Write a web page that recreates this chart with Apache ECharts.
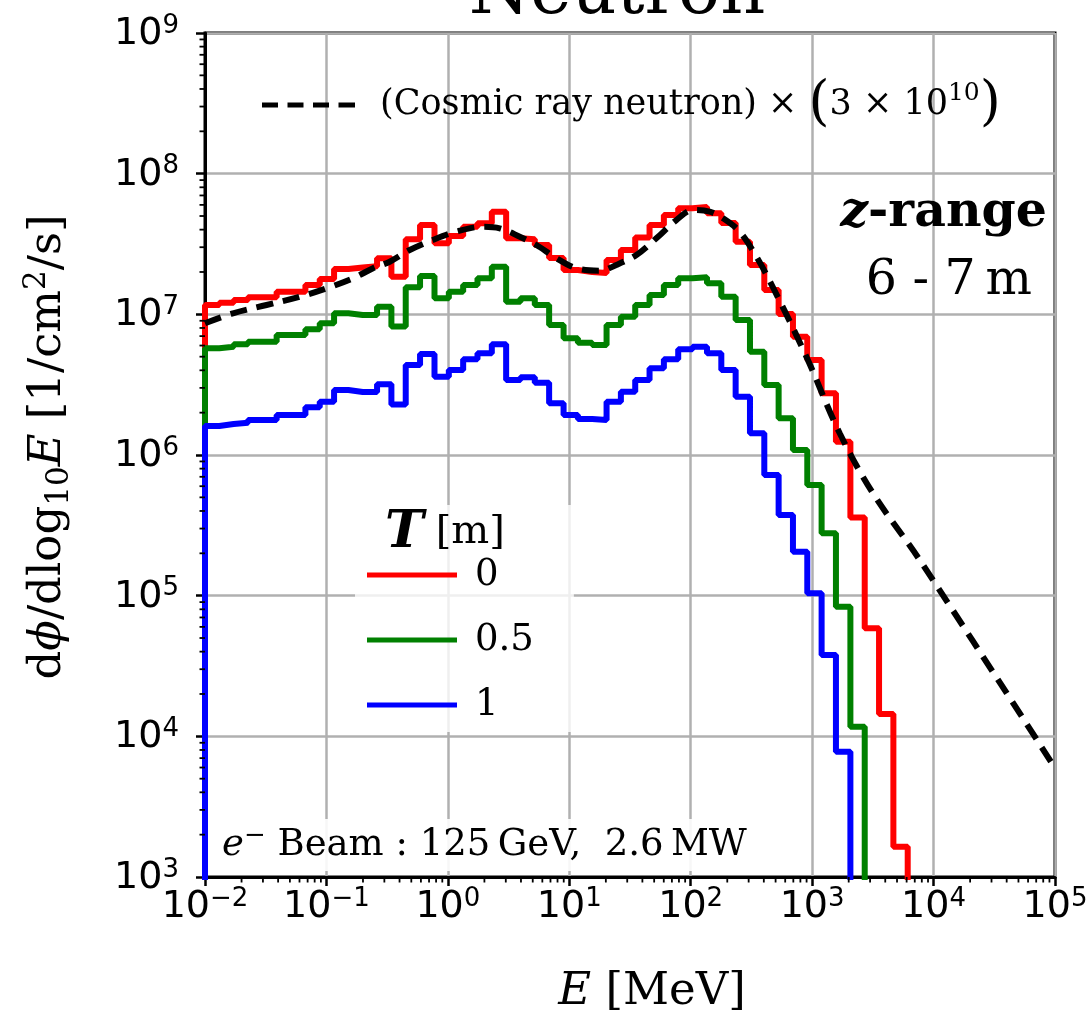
<!DOCTYPE html>
<html><head><meta charset="utf-8">
<script src="https://cdn.jsdelivr.net/npm/echarts@6/dist/echarts.min.js"></script>
<style>html,body{margin:0;padding:0;background:#fff}#c{width:1091px;height:1017px}</style>
</head><body><div id="c"></div>
<script>
// ---------- data ----------
// histogram bin edges, energy in MeV (log-spaced)
const binEdgesMeV = [0.01, 0.01312, 0.01722, 0.02259, 0.02965, 0.03890, 0.05117, 0.06714, 0.08810, 0.1156,
  0.1517, 0.1991, 0.2612, 0.3428, 0.4498, 0.5902, 0.7762, 1.0186, 1.3366, 1.7539,
  2.3014, 3.0200, 3.9628, 5.2000, 6.8234, 8.9743, 11.776, 15.453, 20.277, 26.607,
  34.914, 45.814, 60.117, 78.886, 103.51, 136.14, 178.65, 234.42, 307.61, 403.65,
  529.66, 695.02, 912.01, 1196.7, 1570.4, 2065.4, 2710.2, 3556.3, 4666.6, 6123.5, 8035.3];
// flux per bin, T = 0 m
const fluxT0 = [1.165e7, 1.21e7, 1.265e7, 1.32e7, 1.32e7, 1.45e7, 1.45e7, 1.617e7, 1.783e7, 2.1e7,
  2.15e7, 2.2e7, 2.503e7, 1.852e7, 3.415e7, 4.317e7, 3.2e7, 3.6e7, 4.2e7, 4.44e7,
  5.365e7, 3.47e7, 3.42e7, 3.11e7, 2.515e7, 2.066e7, 2.0e7, 1.967e7, 2.434e7, 2.867e7,
  3.518e7, 4.317e7, 5.08e7, 5.67e7, 5.8e7, 5.23e7, 4.46e7, 3.284e7, 2.243e7, 1.489e7,
  1.006e7, 6.93e6, 4.735e6, 2.746e6, 1.243e6, 3.596e5, 5.865e4, 1.442e4, 1.643e3];
// flux per bin, T = 0.5 m
const fluxT05 = [5.735e6, 5.89e6, 6.12e6, 6.39e6, 6.39e6, 7.13e6, 7.13e6, 7.83e6, 8.64e6, 1.017e7,
  9.89e6, 9.89e6, 1.133e7, 8.2e6, 1.556e7, 1.873e7, 1.3e7, 1.449e7, 1.617e7, 1.804e7,
  2.182e7, 1.23e7, 1.3e7, 1.165e7, 8.4e6, 6.755e6, 6.29e6, 6.05e6, 8.4e6, 9.62e6,
  1.165e7, 1.373e7, 1.617e7, 1.804e7, 1.834e7, 1.662e7, 1.335e7, 9.11e6, 5.425e6, 3.146e6,
  1.823e6, 1.085e6, 6.12e5, 2.776e5, 8.35e4, 1.171e4];
// flux per bin, T = 1 m
const fluxT1 = [1.608e6, 1.661e6, 1.697e6, 1.774e6, 1.774e6, 1.925e6, 1.925e6, 2.184e6, 2.393e6, 2.898e6,
  2.805e6, 2.8e6, 3.182e6, 2.286e6, 4.363e6, 5.224e6, 3.603e6, 4.02e6, 4.79e6, 5.284e6,
  6.12e6, 3.414e6, 3.568e6, 3.266e6, 2.331e6, 1.925e6, 1.803e6, 1.774e6, 2.393e6, 2.818e6,
  3.414e6, 4.134e6, 4.79e6, 5.64e6, 5.89e6, 5.284e6, 4.02e6, 2.597e6, 1.427e6, 7.21e5,
  3.746e5, 2.054e5, 1.04e5, 3.787e4, 7.78e3];
// cosmic ray neutron spectrum x 3e10 (dashed curve)
const cosmicE = [0.01, 0.017, 0.0321, 0.0603, 0.1, 0.1656, 0.242, 0.332, 0.485, 0.75,
  1.175, 1.945, 2.673, 3.91, 5.36, 7.83, 11.46, 17.78, 24.4, 35.7,
  52.1, 76.2, 104.5, 143.2, 184.5, 253, 347.5, 476.4, 897, 1687,
  3170, 7690, 1e5];
const cosmicFlux = [8.64e6, 1.017e7, 1.165e7, 1.335e7, 1.531e7, 1.804e7, 2.125e7, 2.367e7, 2.867e7, 3.377e7,
  3.87e7, 4.2e7, 4.09e7, 3.562e7, 3.11e7, 2.503e7, 2.125e7, 2.042e7, 2.243e7, 2.641e7,
  3.47e7, 4.68e7, 5.517e7, 5.365e7, 4.816e7, 3.87e7, 2.569e7, 1.551e7, 5.0e6, 1.427e6,
  5.342e5, 1.793e5, 5.96e3];
const seriesNames = ['0', '0.5', '1'];
const cosmicName = 'Cosmic ray neutron x 3e10';
const xTickExponents = [-2, -1, 0, 1, 2, 3, 4, 5];
const yTickExponents = [3, 4, 5, 6, 7, 8, 9];
const ZERO_FLUX = 100; // empty bins fall below the visible y-range

// ---------- build ----------
const X_MIN = 1e-2, X_MAX = 1e5, Y_MIN = 1e3, Y_MAX = 1e9;
function histData(vals) {
  const d = [[binEdgesMeV[0], ZERO_FLUX]];
  vals.forEach((v, i) => d.push([binEdgesMeV[i], v]));
  d.push([binEdgesMeV[vals.length], ZERO_FLUX]);
  return d;
}
const minorX = [], minorY = [];
xTickExponents.slice(0, -1).forEach(e => { for (let m = 2; m <= 9; m++) minorX.push([m * Math.pow(10, e), Y_MIN]); });
yTickExponents.slice(0, -1).forEach(e => { for (let m = 2; m <= 9; m++) minorY.push([X_MIN, m * Math.pow(10, e)]); });

const SERIF = 'DejaVu Serif';
const SANS = 'DejaVu Sans';
function powLabel(v) {
  const e = Math.round(Math.log10(v));
  return '{b|10}{s|' + (e < 0 ? '\u2212' + (-e) : e) + '}';
}
const tickRich = {
  b: { fontFamily: SANS, fontSize: 38, lineHeight: 40, verticalAlign: 'bottom', color: '#000' },
  s: { fontFamily: SANS, fontSize: 26, lineHeight: 20, verticalAlign: 'top', color: '#000' }
};
const nameRich = {
  r: { fontFamily: SERIF, fontSize: 45, lineHeight: 54, color: '#000' },
  i: { fontFamily: SERIF, fontStyle: 'italic', fontSize: 45, lineHeight: 54, color: '#000' },
  sub: { fontFamily: SERIF, fontSize: 31, lineHeight: 30, verticalAlign: 'bottom', color: '#000' },
  sup: { fontFamily: SERIF, fontSize: 31, lineHeight: 30, verticalAlign: 'top', color: '#000' }
};
const LW = 6;

const chart = echarts.init(document.getElementById('c'), null, { renderer: 'canvas' });
const option = {
  animation: false,
  backgroundColor: '#fff',
  grid: { left: 205, right: 36, top: 33, bottom: 140, show: true, borderColor: '#000', borderWidth: 3,
          backgroundColor: 'transparent', outerBoundsMode: 'none', containLabel: false },
  xAxis: {
    type: 'log', logBase: 10, min: X_MIN, max: X_MAX, splitNumber: 7,
    axisLine: { show: true, lineStyle: { color: '#000', width: 3 } },
    axisTick: { show: true, inside: false, length: 9, lineStyle: { color: '#000', width: 2.5 } },
    minorTick: { show: false },
    splitLine: { show: true, lineStyle: { color: '#b0b0b0', width: 2.5 } },
    axisLabel: { margin: 9, formatter: powLabel, rich: tickRich },
    name: '{i|E}{r| [MeV]}', nameLocation: 'middle', nameGap: 88,
    nameTextStyle: { rich: nameRich, padding: [0, 0, 0, 44] }
  },
  yAxis: {
    type: 'log', logBase: 10, min: Y_MIN, max: Y_MAX, splitNumber: 6,
    axisLine: { show: true, lineStyle: { color: '#000', width: 3 } },
    axisTick: { show: true, inside: false, length: 9, lineStyle: { color: '#000', width: 2.5 } },
    minorTick: { show: false },
    splitLine: { show: true, lineStyle: { color: '#b0b0b0', width: 2.5 } },
    axisLabel: { margin: 26, formatter: powLabel, rich: tickRich },
    name: '{r|d}{i|\u03d5}{r|/dlog}{sub|10}{i|E}{r| [1/cm}{sup|2}{r|/s]}',
    nameLocation: 'middle', nameRotate: 90, nameGap: 130,
    nameTextStyle: { rich: nameRich, padding: [0, 0, 0, 16] }
  },
  legend: [
    {
      data: seriesNames, orient: 'vertical', left: 355, top: 505,
      padding: [50, 40, 7, 12], itemWidth: 90, itemHeight: 5, itemGap: 25, icon: 'rect',
      backgroundColor: 'rgba(255,255,255,0.8)', borderWidth: 0, selectedMode: false,
      textStyle: { fontFamily: SERIF, fontSize: 37, lineHeight: 40, color: '#000', padding: [0, 0, 0, 13] }
    },
    {
      data: [cosmicName], orient: 'horizontal', left: 262, top: 78, padding: 0,
      itemWidth: 93, itemHeight: 5, selectedMode: false,
      icon: 'path://M0,0h16v5h-16zM25.5,0h16v5h-16zM51,0h16v5h-16zM76.5,0h16.5v5h-16.5z',
      formatter: () => '{r|(Cosmic ray neutron) \u00d7 }{p|(}{r|3 \u00d7 10}{s|10}{p|)}',
      textStyle: {
        padding: [0, 0, 0, 20],
        rich: {
          r: { fontFamily: SERIF, fontSize: 35, lineHeight: 48, color: '#000' },
          p: { fontFamily: SERIF, fontSize: 54, lineHeight: 48, color: '#000' },
          s: { fontFamily: SERIF, fontSize: 25, lineHeight: 28, verticalAlign: 'top', color: '#000' }
        }
      }
    }
  ],
  series: [
    { name: seriesNames[0], type: 'line', step: 'end', symbol: 'none', data: histData(fluxT0),
      lineStyle: { color: '#ff0000', width: LW }, itemStyle: { color: '#ff0000' }, clip: true, z: 3 },
    { name: seriesNames[1], type: 'line', step: 'end', symbol: 'none', data: histData(fluxT05),
      lineStyle: { color: '#008000', width: LW }, itemStyle: { color: '#008000' }, clip: true, z: 3 },
    { name: seriesNames[2], type: 'line', step: 'end', symbol: 'none', data: histData(fluxT1),
      lineStyle: { color: '#0000ff', width: LW }, itemStyle: { color: '#0000ff' }, clip: true, z: 3 },
    { name: cosmicName, type: 'line', smooth: 0.35, symbol: 'none',
      data: cosmicE.map((e, i) => [e, cosmicFlux[i]]),
      lineStyle: { color: '#000', width: LW, type: [17, 10] }, itemStyle: { color: '#000' }, clip: true, z: 4 },
    { name: 'minorTicksX', type: 'custom', coordinateSystem: 'cartesian2d', silent: true, clip: false, z: 10,
      data: minorX,
      renderItem: (p, api) => { const c = api.coord([api.value(0), api.value(1)]);
        return { type: 'line', shape: { x1: c[0], y1: c[1], x2: c[0], y2: c[1] + 5.5 }, style: { stroke: '#000', lineWidth: 1.8 } }; } },
    { name: 'minorTicksY', type: 'custom', coordinateSystem: 'cartesian2d', silent: true, clip: false, z: 10,
      data: minorY,
      renderItem: (p, api) => { const c = api.coord([api.value(0), api.value(1)]);
        return { type: 'line', shape: { x1: c[0] - 5.5, y1: c[1], x2: c[0], y2: c[1] }, style: { stroke: '#000', lineWidth: 1.8 } }; } }
  ],
  graphic: [
    { type: 'text', x: 617, y: -40, z: 100, style: { text: 'Neutron', fontFamily: SERIF, fontSize: 70, fill: '#000', align: 'center', verticalAlign: 'top' } },
    { type: 'text', x: 1047, y: 213, z: 100, style: {
        text: '{zi|z}{b|-range}', align: 'right', verticalAlign: 'middle',
        rich: { zi: { fontFamily: SERIF, fontStyle: 'italic', fontWeight: 'bold', fontSize: 49, fill: '#000' },
                b: { fontFamily: SERIF, fontWeight: 'bold', fontSize: 49, fill: '#000' } } } },
    { type: 'text', x: 1032, y: 281, z: 100, style: { text: '6 - 7\u2009m', fontFamily: SERIF, fontSize: 49, fill: '#000', align: 'right', verticalAlign: 'middle' } },
    { type: 'text', x: 385, y: 533, z: 100, style: {
        text: '{t|T}{m|[m]}', align: 'left', verticalAlign: 'middle',
        rich: { t: { fontFamily: SERIF, fontStyle: 'italic', fontWeight: 'bold', fontSize: 52, fill: '#000' },
                m: { fontFamily: SERIF, fontSize: 40, fill: '#000', padding: [0, 0, 0, 12] } } } },
    { type: 'text', x: 215, y: 845, z: 100, style: {
        text: '{i|e}{s|\u2212}{r| Beam : 125\u2009GeV,  2.6\u2009MW}', align: 'left', verticalAlign: 'middle',
        backgroundColor: 'rgba(255,255,255,0.9)', padding: [4, 8, 4, 7],
        rich: { i: { fontFamily: SERIF, fontStyle: 'italic', fontSize: 37, fill: '#000', lineHeight: 44 },
                s: { fontFamily: SERIF, fontSize: 26, fill: '#000', lineHeight: 26, verticalAlign: 'top' },
                r: { fontFamily: SERIF, fontSize: 37, fill: '#000', lineHeight: 44 } } } }
  ]
};
chart.setOption(option);
</script></body></html>
